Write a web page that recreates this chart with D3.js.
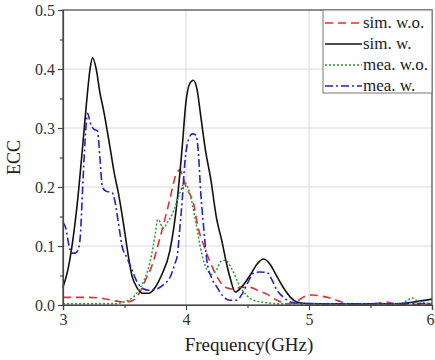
<!DOCTYPE html>
<html>
<head>
<meta charset="utf-8">
<script src="https://cdn.jsdelivr.net/npm/d3@7"></script>
<style>
  html, body { margin: 0; padding: 0; background: #fff; }
  svg { display: block; font-family: "Liberation Serif", "Times New Roman", "DejaVu Serif", serif; }
</style>
</head>
<body>
<svg id="chart"></svg>
<script>
// ECC vs frequency, simulated and measured, with / without decoupling

const simWoFreq = [3.00, 3.10, 3.20, 3.30, 3.40, 3.50, 3.56, 3.62, 3.67, 3.72, 3.79, 3.87, 3.92, 3.95, 3.97, 4.00, 4.06, 4.10, 4.15, 4.20, 4.26, 4.32, 4.38, 4.45, 4.52, 4.58, 4.66, 4.74, 4.82, 4.90, 4.96, 5.03, 5.10, 5.17, 5.24, 5.30, 5.40, 5.55, 5.63, 5.70, 5.80, 6.00];
const simWoEcc  = [0.013, 0.013, 0.013, 0.012, 0.008, 0.005, 0.007, 0.020, 0.042, 0.065, 0.115, 0.180, 0.222, 0.229, 0.220, 0.200, 0.173, 0.130, 0.098, 0.071, 0.045, 0.030, 0.027, 0.030, 0.030, 0.025, 0.018, 0.008, 0.002, 0.006, 0.014, 0.017, 0.015, 0.012, 0.007, 0.003, 0.001, 0.003, 0.005, 0.002, 0.001, 0.001];

const simWFreq = [3.00, 3.04, 3.08, 3.12, 3.16, 3.19, 3.22, 3.24, 3.27, 3.30, 3.33, 3.38, 3.42, 3.45, 3.49, 3.52, 3.56, 3.60, 3.65, 3.70, 3.75, 3.80, 3.87, 3.93, 3.97, 4.00, 4.03, 4.06, 4.09, 4.12, 4.16, 4.20, 4.25, 4.29, 4.33, 4.36, 4.40, 4.45, 4.52, 4.58, 4.63, 4.68, 4.74, 4.79, 4.85, 4.90, 4.95, 5.20, 5.50, 5.70, 5.85, 6.00];
const simWEcc  = [0.030, 0.060, 0.110, 0.180, 0.270, 0.340, 0.400, 0.419, 0.400, 0.360, 0.330, 0.270, 0.220, 0.190, 0.140, 0.098, 0.050, 0.030, 0.020, 0.020, 0.030, 0.050, 0.093, 0.180, 0.270, 0.345, 0.375, 0.381, 0.365, 0.320, 0.260, 0.215, 0.145, 0.110, 0.070, 0.045, 0.022, 0.030, 0.050, 0.070, 0.078, 0.070, 0.048, 0.030, 0.013, 0.005, 0.003, 0.002, 0.002, 0.002, 0.005, 0.010];

const meaWoFreq = [3.00, 3.20, 3.40, 3.48, 3.53, 3.58, 3.63, 3.67, 3.71, 3.75, 3.77, 3.79, 3.81, 3.85, 3.90, 3.95, 3.99, 4.03, 4.08, 4.13, 4.17, 4.21, 4.25, 4.28, 4.32, 4.37, 4.44, 4.50, 4.55, 4.65, 4.80, 5.20, 5.60, 5.75, 5.80, 5.84, 5.88, 5.93, 6.00];
const meaWoEcc  = [0.002, 0.002, 0.002, 0.004, 0.008, 0.015, 0.030, 0.047, 0.075, 0.120, 0.145, 0.140, 0.130, 0.140, 0.160, 0.190, 0.207, 0.190, 0.140, 0.085, 0.060, 0.052, 0.060, 0.073, 0.076, 0.062, 0.031, 0.015, 0.008, 0.004, 0.002, 0.002, 0.002, 0.003, 0.008, 0.012, 0.007, 0.004, 0.003];

const meaWFreq = [3.00, 3.02, 3.05, 3.07, 3.10, 3.12, 3.14, 3.16, 3.18, 3.20, 3.22, 3.25, 3.28, 3.30, 3.32, 3.35, 3.40, 3.42, 3.45, 3.48, 3.52, 3.56, 3.60, 3.65, 3.70, 3.76, 3.82, 3.87, 3.91, 3.93, 3.95, 3.97, 3.99, 4.02, 4.05, 4.08, 4.10, 4.12, 4.14, 4.17, 4.21, 4.25, 4.30, 4.36, 4.41, 4.46, 4.50, 4.55, 4.60, 4.66, 4.70, 4.74, 4.80, 4.85, 4.95, 6.00];
const meaWEcc  = [0.140, 0.132, 0.100, 0.088, 0.088, 0.092, 0.115, 0.200, 0.280, 0.325, 0.310, 0.298, 0.295, 0.250, 0.200, 0.193, 0.190, 0.178, 0.140, 0.100, 0.080, 0.060, 0.040, 0.028, 0.025, 0.027, 0.035, 0.047, 0.070, 0.085, 0.130, 0.180, 0.240, 0.280, 0.290, 0.288, 0.260, 0.190, 0.140, 0.075, 0.045, 0.031, 0.015, 0.008, 0.008, 0.020, 0.037, 0.054, 0.056, 0.055, 0.042, 0.025, 0.012, 0.005, 0.002, 0.002];

const seriesNames = ["sim. w.o.", "sim. w.", "mea. w.o.", "mea. w."];
const xTicks = [3, 4, 5, 6];
const yTicks = [0, 0.1, 0.2, 0.3, 0.4, 0.5];

const width = 435,
  height = 360,
  margin = { top: 10, right: 3, bottom: 55, left: 63 };

const series = [
  { name: seriesNames[0], f: simWoFreq, v: simWoEcc, color: "#e0313a", dash: "8,5", w: 1.6 },
  { name: seriesNames[1], f: simWFreq, v: simWEcc, color: "#111", dash: null, w: 1.6 },
  { name: seriesNames[2], f: meaWoFreq, v: meaWoEcc, color: "#2b9a33", dash: "2,2", w: 1.5 },
  { name: seriesNames[3], f: meaWFreq, v: meaWEcc, color: "#2323c8", dash: "8,3,2,3", w: 1.6 }
];

const x = d3.scaleLinear([3, 6], [margin.left, width - margin.right]);
const y = d3.scaleLinear([0, 0.5], [height - margin.bottom, margin.top]);

const svg = d3.select("#chart").attr("width", width).attr("height", height);

// grid
svg.append("g")
  .selectAll("line")
  .data(yTicks.slice(1, -1))
  .join("line")
  .attr("x1", margin.left).attr("x2", width - margin.right)
  .attr("y1", d => y(d)).attr("y2", d => y(d))
  .attr("stroke", "#d9d9d9").attr("stroke-width", 1);

svg.append("g")
  .selectAll("line")
  .data(xTicks.slice(1, -1))
  .join("line")
  .attr("y1", margin.top).attr("y2", height - margin.bottom)
  .attr("x1", d => x(d)).attr("x2", d => x(d))
  .attr("stroke", "#d9d9d9").attr("stroke-width", 1);

// curves
const line = d3.line().curve(d3.curveMonotoneX);

svg.append("g")
  .selectAll("path")
  .data(series)
  .join("path")
  .attr("fill", "none")
  .attr("stroke", d => d.color)
  .attr("stroke-width", d => d.w)
  .attr("stroke-dasharray", d => d.dash)
  .attr("d", d => line(d.f.map((f, i) => [x(f), y(d.v[i])])));

// frame
svg.append("rect")
  .attr("x", margin.left).attr("y", margin.top)
  .attr("width", width - margin.right - margin.left)
  .attr("height", height - margin.bottom - margin.top)
  .attr("fill", "none").attr("stroke", "#444").attr("stroke-width", 1.2);

// axes
svg.append("g")
  .attr("class", "x-axis")
  .attr("transform", `translate(0, ${height - margin.bottom})`)
  .call(d3.axisBottom(x).tickValues(xTicks).tickFormat(d3.format("d")).tickSize(5).tickPadding(4));
svg.append("g")
  .attr("transform", `translate(0, ${height - margin.bottom})`)
  .call(d3.axisBottom(x).tickValues([3.5, 4.5, 5.5]).tickFormat("").tickSize(3))
  .select(".domain").remove();

svg.append("g")
  .attr("transform", `translate(${margin.left}, 0)`)
  .call(d3.axisLeft(y).tickValues(yTicks).tickFormat(d3.format(".1f")).tickSize(5).tickPadding(3));
svg.append("g")
  .attr("transform", `translate(${margin.left}, 0)`)
  .call(d3.axisLeft(y).tickValues([0.05, 0.15, 0.25, 0.35, 0.45]).tickFormat("").tickSize(3))
  .select(".domain").remove();

svg.selectAll(".tick text")
  .style("font-family", "'Liberation Serif', 'Times New Roman', 'DejaVu Serif', serif")
  .style("font-size", "16px")
  .attr("fill", "#333");
svg.selectAll(".domain, .tick line").attr("stroke", "#444").attr("stroke-width", 1.2);

// keep the last x label inside the page
svg.selectAll(".x-axis .tick text").filter(d => d === 6).attr("dx", "-2");

// axis titles
svg.append("text")
  .attr("transform", `translate(20, ${(margin.top + height - margin.bottom) / 2}) rotate(-90)`)
  .attr("text-anchor", "middle")
  .style("font-size", "18px")
  .attr("fill", "#222")
  .text("ECC");

svg.append("text")
  .attr("x", 249)
  .attr("y", 351)
  .attr("text-anchor", "middle")
  .style("font-size", "19px")
  .attr("fill", "#222")
  .text("Frequency(GHz)");

// legend
const lg = svg.append("g");
lg.append("rect")
  .attr("x", 323).attr("y", margin.top)
  .attr("width", width - margin.right - 323).attr("height", 83)
  .attr("fill", "#fff").attr("stroke", "#777").attr("stroke-width", 1);

const item = lg.selectAll("g.item")
  .data(series)
  .join("g")
  .attr("class", "item")
  .attr("transform", (d, i) => `translate(325, ${23 + i * 21})`);

item.append("line")
  .attr("x1", 0).attr("x2", 37)
  .attr("stroke", d => d.color)
  .attr("stroke-width", d => d.w)
  .attr("stroke-dasharray", d => d.dash);

item.append("text")
  .attr("x", 38).attr("dy", "0.32em")
  .style("font-size", "17px")
  .attr("fill", "#222")
  .text(d => d.name);
</script>
</body>
</html>
